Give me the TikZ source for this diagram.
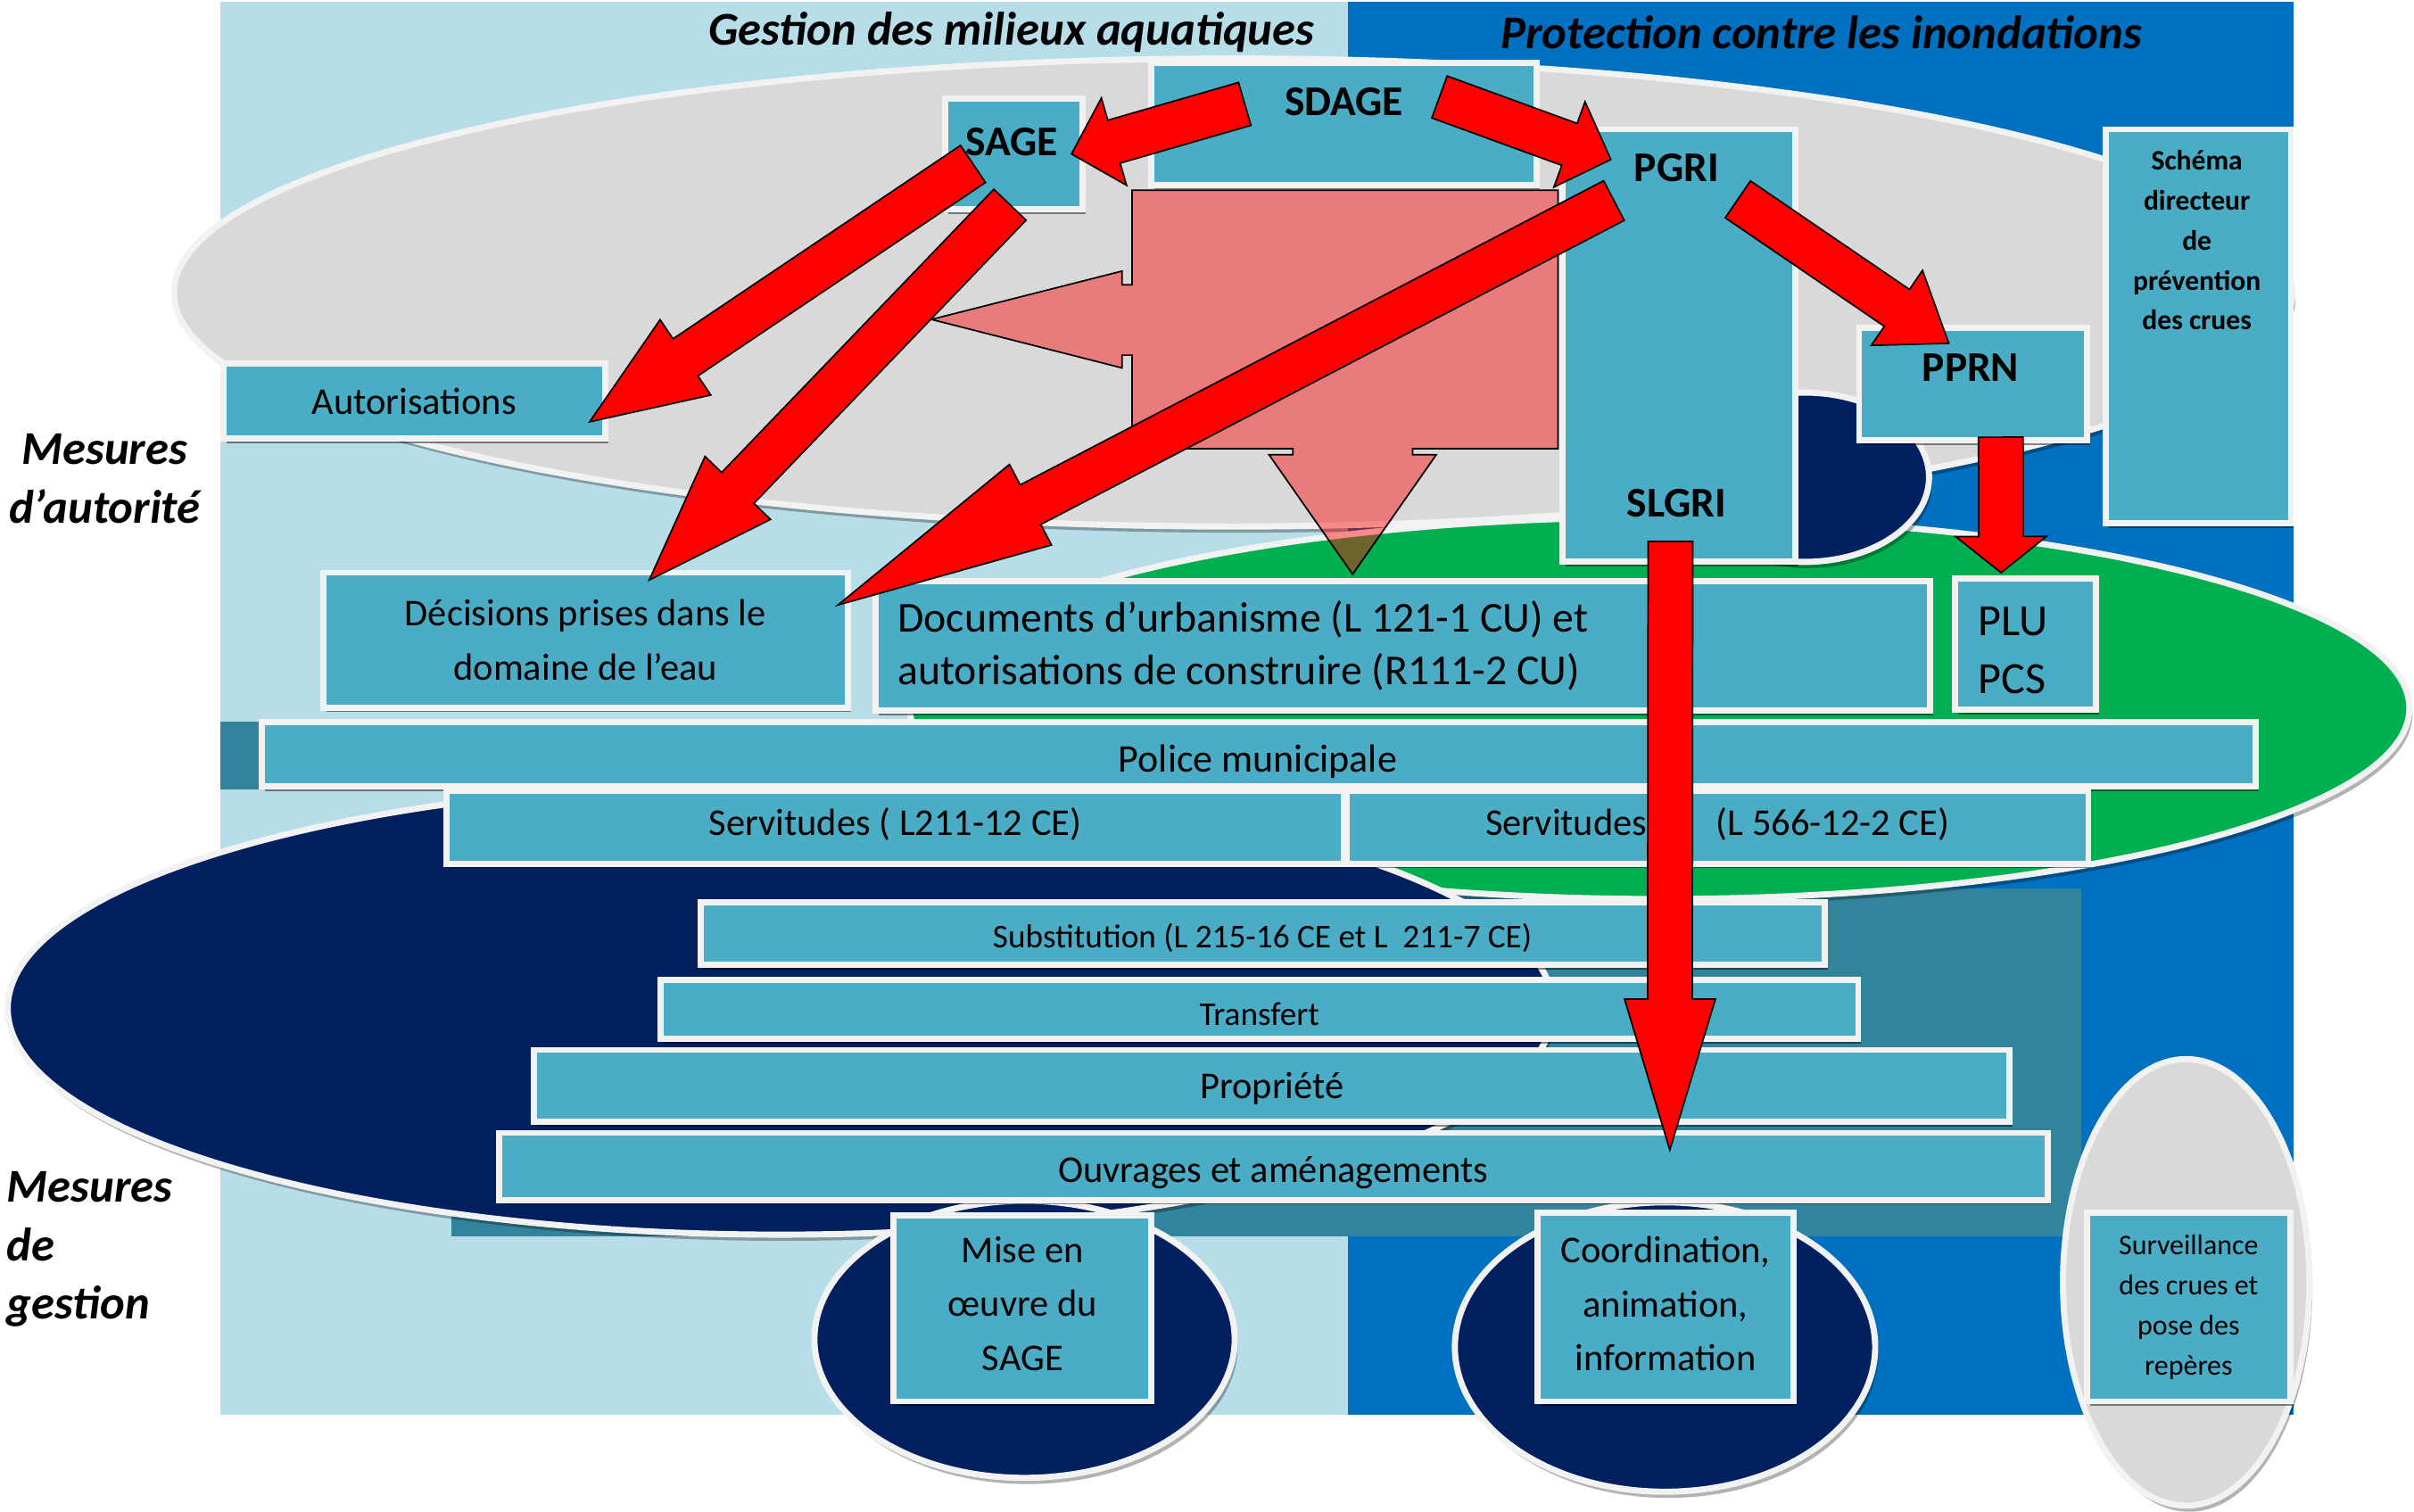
\documentclass[tikz,border=0pt]{standalone}
\usepackage{fontspec}
\setmainfont{Carlito}
\usetikzlibrary{calc,shadows}
\definecolor{lightbg}{HTML}{B7DDE8}
\definecolor{darkbg}{HTML}{0070C0}
\definecolor{boxblue}{HTML}{4BACC6}
\definecolor{boxline}{HTML}{F2F2F2}
\definecolor{greyell}{HTML}{D9D9D9}
\definecolor{greenell}{HTML}{00B050}
\definecolor{navy}{HTML}{002060}
\definecolor{tealbg}{HTML}{31849B}
\tikzset{
  box/.style={fill=boxblue, draw=boxline, line width=4pt, inner sep=0pt, align=center,
    drop shadow={shadow xshift=2pt, shadow yshift=-3pt, opacity=0.45, fill=black}},
  blob/.style={draw=boxline, line width=4pt,
    drop shadow={shadow xshift=2pt, shadow yshift=-4pt, opacity=0.3, fill=black}},
  redfill/.style={fill=red, draw=black, line width=1pt},
  pinkfill/.style={fill=red, fill opacity=0.43, draw=black, line width=1pt},
  txt/.style={font=\fontsize{24.6}{35}\selectfont},
  bigtxt/.style={font=\fontsize{27.7}{34}\selectfont},
  smalltxt/.style={font=\fontsize{21.6}{26}\selectfont},
  tinytxt/.style={font=\fontsize{18.5}{26}\selectfont},
  boldtxt/.style={font=\fontsize{27.5}{30}\selectfont\bfseries},
  headtxt/.style={font=\fontsize{30.5}{38}\selectfont\bfseries\itshape},
}
\newcommand\lowered[2]{\raisebox{-#1pt}[\height][\depth]{#2}}
\newcommand\redarrow[3]{%
  \coordinate (neck) at ($(#2)!#3pt!(#1)$);
  \draw[redfill] ($(#1)!14.5pt!90:(#2)$) -- ($(neck)!14.5pt!-90:(#1)$)
    -- ($(neck)!29.5pt!-90:(#1)$) -- (#2) -- ($(neck)!29.5pt!90:(#1)$)
    -- ($(neck)!14.5pt!90:(#1)$) -- ($(#1)!14.5pt!-90:(#2)$) -- cycle;
}
\begin{document}
\begin{tikzpicture}[x=1pt, y=-1pt]
    \useasboundingbox (0,0) rectangle (1568,981.6);
    \fill[white] (0,0) rectangle (1568,981.6);
    \fill[lightbg] (143,1) rectangle (875.5,919);
    \fill[darkbg] (875.5,1) rectangle (1490,919);
    \fill[tealbg] (143,469) rectangle (600,513);
    \fill[tealbg] (293,577) rectangle (1352,803);

    \draw[blob, fill=greyell] (801,190) ellipse [x radius=688, y radius=152];
    \draw[blob, fill=greenell] (1078,460) ellipse [x radius=487, y radius=124];
    \draw[blob, fill=navy] (507,655) ellipse [x radius=502, y radius=147];
    \draw[blob, fill=navy] (1172,310) ellipse [x radius=81, y radius=55];
    \draw[blob, fill=greyell] (1420,833) ellipse [x radius=80, y radius=145];
    \draw[blob, fill=navy] (665.5,870) ellipse [x radius=136.5, y radius=90];
    \draw[blob, fill=navy] (1081.5,875) ellipse [x radius=136.5, y radius=94];

    \draw[pinkfill] (735.3,123.6) -- (1012,123.6) -- (1012,291.5) -- (917.5,291.5)
        -- (917.5,295.4) -- (932.9,295.4) -- (878.6,373) -- (824.3,295.4)
        -- (839.7,295.4) -- (839.7,291.5) -- (735.3,291.5) -- (735.3,230.7)
        -- (728.8,230.7) -- (728.8,239) -- (605,207.5) -- (728.8,176.1)
        -- (728.8,185) -- (735.3,185) -- cycle;

    \node[headtxt] (gestion) at (657,21) {Gestion des milieux aquatiques};
    \node[headtxt] (protection) at (1183,21) {Protection contre les inondations};
    \node[headtxt, align=center] (autorite) at (68,311) {Mesures\\d’autorité};
    \node[headtxt, align=left, anchor=west] (gestionm) at (1,811.5) {Mesures\\de\\gestion};

    \node[box, minimum width=89pt, minimum height=72pt] (sage) at (658.5,100) {};
    \node[box, minimum width=250pt, minimum height=79pt] (sdage) at (873,80.5) {};
    \node[box, txt, minimum width=248pt, minimum height=49pt] (autor) at (269,260.5) {Autorisations};
    \node[box, txt, minimum width=340.6pt, minimum height=87.6pt] (decis) at (380.3,415.8) {Décisions prises dans le\\domaine de l’eau};
    \node[box, bigtxt, text width=656.2pt, align=flush left, inner xsep=14.4pt, minimum height=84.3pt] (docs) at (911.2,419.5) {Documents d’urbanisme (L 121-1 CU) et\\autorisations de construire (R111-2 CU)};
    \node[box, text width=61.5pt, align=flush left, inner xsep=15pt, minimum height=85.3pt, font=\fontsize{29}{37.5}\selectfont] (plu) at (1315.75,418.4) {\lowered{4}{PLU}\\\lowered{4}{PCS}};
    \node[box, minimum width=151.2pt, minimum height=281pt] (pgri) at (1090.4,224.5) {};
    \node[box, minimum width=147.9pt, minimum height=73pt] (pprn) at (1281.5,249.5) {};
    \node[box, minimum width=120pt, minimum height=256pt] (schema) at (1428,212) {};
    \node[box, minimum width=1295pt, minimum height=42pt] (police) at (817.5,490) {};
    \node[font=\fontsize{25.5}{30}\selectfont, anchor=base] (policetxt) at (817,501.5) {Police municipale};
    \node[box, txt, minimum width=583pt, minimum height=47.5pt] (serv1) at (581.5,537.25) {\lowered{-2}{Servitudes ( L211-12 CE)}};
    \node[box, txt, minimum width=482pt, minimum height=47.5pt] (serv2) at (1115.5,537.25) {\lowered{-2}{Servitudes\hspace{45pt}(L 566-12-2 CE)}};
    \node[box, smalltxt, minimum width=730pt, minimum height=40.6pt] (subst) at (820,606.5) {\lowered{3}{Substitution (L 215-16 CE et L\ \ 211-7 CE)}};
    \node[box, smalltxt, minimum width=778pt, minimum height=38pt] (transf) at (818,655.7) {\lowered{3}{Transfert}};
    \node[box, txt, minimum width=958.4pt, minimum height=46.6pt] (propr) at (826.2,705.3) {\lowered{2}{Propriété}};
    \node[box, txt, minimum width=1006pt, minimum height=43.5pt] (ouvr) at (827,757.65) {\lowered{4}{Ouvrages et aménagements}};
    \node[box, txt, minimum width=167.5pt, minimum height=120.9pt] (sagework) at (664.25,849.85) {\lowered{-3}{Mise en}\\\lowered{-3}{œuvre du}\\\lowered{-3}{SAGE}};
    \node[box, txt, minimum width=166.3pt, minimum height=122.6pt] (coord) at (1081.85,849) {\lowered{-2}{Coordination,}\\\lowered{-2}{animation,}\\\lowered{-2}{information}};
    \node[box, tinytxt, minimum width=132.2pt, minimum height=122.6pt] (surv) at (1421.6,849) {Surveillance\\des crues et\\pose des\\repères};

    \node[boldtxt] (sagetxt) at (657,92) {SAGE};
    \node[boldtxt] (sdagetxt) at (873,66) {SDAGE};
    \node[boldtxt] (pgritxt) at (1089,109) {PGRI};
    \node[boldtxt] (slgritxt) at (1089,327) {SLGRI};
    \node[boldtxt] (pprntxt) at (1280,239) {PPRN};
    \node[tinytxt, font=\fontsize{18.3}{26}\selectfont\bfseries, align=center] (schematxt) at (1427,156) {Schéma\\directeur\\de\\prévention\\des crues};

    \coordinate (sdageL) at (808.5,67.5);
    \coordinate (sdageR) at (935,63);
    \coordinate (sageA) at (632,106.5);
    \coordinate (sageB) at (656,133);
    \coordinate (pgriA) at (1048.3,130.3);
    \coordinate (pgriB) at (1128.8,129.5);
    \coordinate (pprnB) at (1299.6,284);
    \coordinate (slgriB) at (1085,351.7);
    \coordinate (sageT) at (696,100);
    \coordinate (pgriT) at (1046.3,103.6);
    \coordinate (pprnT) at (1265.8,223);
    \coordinate (pluT) at (1299.8,372);
    \coordinate (autorT) at (383,274);
    \coordinate (decisT) at (421.7,376.8);
    \coordinate (decisR) at (544.3,393);
    \coordinate (ouvrT) at (1084.6,747);
    \redarrow{sdageL}{sageT}{28.7}
    \redarrow{sdageR}{pgriT}{28.6}
    \redarrow{pgriB}{pprnT}{40.8}
    \redarrow{pprnB}{pluT}{23.5}
    \redarrow{sageA}{autorT}{75}
    \redarrow{sageB}{decisT}{83}
    \redarrow{pgriA}{decisR}{141}
    \redarrow{slgriB}{ouvrT}{98}
\end{tikzpicture}
\end{document}
